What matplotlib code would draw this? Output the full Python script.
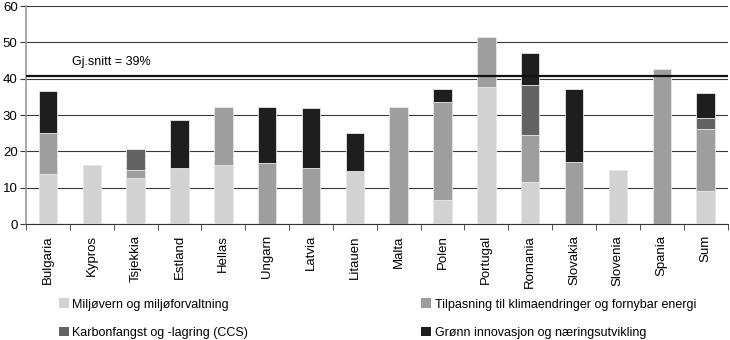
import numpy as np
import matplotlib
matplotlib.use('Agg')
import matplotlib.pyplot as plt
from matplotlib.patches import Patch

plt.rcParams['font.family'] = ['Liberation Sans Narrow', 'Liberation Sans', 'DejaVu Sans']

### Data (percent)
countries = ['Bulgaria', 'Kypros', 'Tsjekkia', 'Estland', 'Hellas', 'Ungarn',
             'Latvia', 'Litauen', 'Malta', 'Polen', 'Portugal', 'Romania',
             'Slovakia', 'Slovenia', 'Spania', 'Sum']
miljo    = [13.8, 16.2, 12.6, 15.3, 16.2, 0, 0, 14.7, 0, 6.6, 37.8, 11.7, 0, 15.0, 0, 9.2]
tilpas   = [11.2, 0, 2.4, 0, 16.1, 16.7, 15.3, 0, 32.3, 27.0, 13.8, 12.7, 17.1, 0, 42.8, 16.9]
ccs      = [0, 0, 5.8, 0, 0, 0, 0, 0, 0, 0, 0, 14.0, 0, 0, 0, 3.0]
innov    = [11.7, 0, 0, 13.3, 0, 15.4, 16.6, 10.3, 0, 3.6, 0, 8.6, 20.0, 0, 0, 7.0]
series_labels = ['Miljøvern og miljøforvaltning',
                 'Tilpasning til klimaendringer og fornybar energi',
                 'Karbonfangst og -lagring (CCS)',
                 'Grønn innovasjon og næringsutvikling']
colors = ['#d2d2d2', '#9e9e9e', '#636363', '#1e1e1e']
avg_line = 40.8
avg_text = 'Gj.snitt = 39%'

fig = plt.figure(figsize=(7.3, 3.4), dpi=100)
ax = fig.add_axes([0.0356, 0.341, 0.961, 0.641])

x = np.arange(len(countries))
bottom = np.zeros(len(countries))
for vals, col in zip([miljo, tilpas, ccs, innov], colors):
    vals = np.array(vals)
    ax.bar(x, vals, width=0.42, bottom=bottom, color=col,
           edgecolor='#e6e6e6', linewidth=0.6, zorder=3)
    bottom += vals

ax.set_xlim(-0.5, len(countries) - 0.5)
ax.set_ylim(0, 60)
ax.set_yticks(np.arange(0, 61, 10))
ax.yaxis.grid(True, color='#3a3a3a', linewidth=0.8, zorder=0)
ax.set_axisbelow(True)

ax.axhline(avg_line, color='#111111', linewidth=1.6, zorder=4)
ax.text(0.55, 44.6, avg_text, fontsize=9, va='center', ha='left')

# category ticks sit between the bars
ax.set_xticks(x)
ax.set_xticklabels(countries, rotation=90, fontsize=9.5)
ax.set_xticks(np.arange(-0.5, len(countries), 1), minor=True)
ax.tick_params(axis='x', which='major', length=0, pad=8)
ax.tick_params(axis='x', which='minor', length=4, direction='out', color='#333333')
ax.tick_params(axis='y', length=4, color='#3a3a3a', labelsize=9.5, pad=2)

for s in ['top', 'right']:
    ax.spines[s].set_visible(False)
ax.spines['left'].set_color('#999999')
ax.spines['left'].set_linewidth(1.2)
ax.spines['bottom'].set_color('#333333')

handles = [Patch(facecolor=c, edgecolor='none') for c in colors]
order = [0, 2, 1, 3]
fig.legend([handles[i] for i in order], [series_labels[i] for i in order],
           ncol=2, loc='lower left', bbox_to_anchor=(0.065, -0.03),
           frameon=False, fontsize=9, handlelength=0.8, handleheight=0.8,
           handletextpad=0.3, columnspacing=13.8, labelspacing=1.3)

fig.savefig('out.png', dpi=100)
